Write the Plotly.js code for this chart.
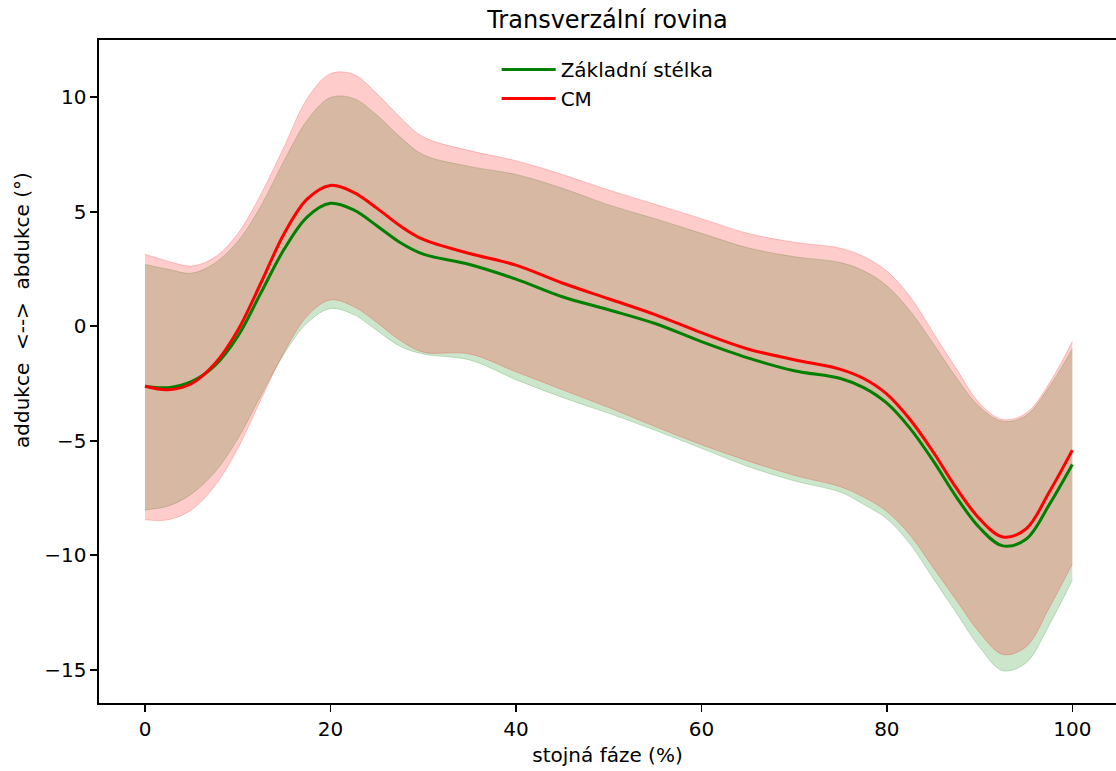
<!DOCTYPE html>
<html>
<head>
<meta charset="utf-8">
<script src="https://cdn.plot.ly/plotly-3.0.1.min.js"></script>
<style>html,body{margin:0;padding:0;background:#fff;}#chart{width:1116px;height:771px;}</style>
</head>
<body>
<div id="chart"></div>
<script>
const phase = [0,2.5,5,7.5,10,12.5,15,17.5,20,22.5,25,27.5,30,35,40,45,50,55,60,65,70,75,77.5,80,82.5,85,87.5,90,92.5,95,97.5,100];

const baseMean = [-2.62,-2.68,-2.42,-1.73,-0.44,1.46,3.36,4.78,5.37,5.08,4.39,3.66,3.15,2.70,2.06,1.29,0.72,0.12,-0.67,-1.38,-1.94,-2.28,-2.68,-3.36,-4.46,-5.88,-7.46,-8.80,-9.59,-9.30,-7.80,-6.04];
const baseUpper = [2.70,2.49,2.32,2.75,3.70,5.25,7.23,9.00,9.99,9.95,9.22,8.27,7.49,6.98,6.63,6.03,5.30,4.70,4.06,3.43,3.04,2.78,2.42,1.77,0.67,-0.75,-2.25,-3.52,-4.15,-3.90,-2.65,-0.99];
const baseLower = [-8.02,-7.85,-7.33,-6.39,-4.92,-3.02,-1.21,0.15,0.77,0.51,-0.18,-0.87,-1.21,-1.47,-2.33,-3.11,-3.80,-4.54,-5.33,-6.12,-6.75,-7.25,-7.78,-8.41,-9.51,-11.02,-12.52,-14.02,-15.04,-14.70,-13.05,-11.09];

const cmMean = [-2.62,-2.77,-2.51,-1.65,-0.18,1.89,4.04,5.56,6.15,5.85,5.16,4.39,3.79,3.18,2.67,1.89,1.20,0.51,-0.28,-0.99,-1.46,-1.88,-2.28,-2.96,-4.07,-5.49,-7.07,-8.41,-9.20,-8.85,-7.25,-5.41];
const cmUpper = [3.15,2.84,2.63,3.01,4.04,5.77,7.84,9.95,11.03,11.00,10.16,9.13,8.27,7.67,7.23,6.63,5.95,5.33,4.70,4.06,3.67,3.41,3.05,2.41,1.30,-0.28,-1.86,-3.36,-4.07,-3.80,-2.50,-0.67];
const cmLower = [-8.45,-8.45,-8.02,-6.99,-5.35,-3.20,-1.13,0.45,1.15,0.86,0.17,-0.61,-1.13,-1.21,-1.99,-2.77,-3.55,-4.38,-5.17,-5.88,-6.51,-7.01,-7.46,-8.09,-9.12,-10.54,-11.96,-13.38,-14.33,-14.00,-12.30,-10.38];

const seriesNames = ["Základní stélka", "CM"];
const xTicks = [0,20,40,60,80,100];
const yTicks = [-15,-10,-5,0,5,10];

const font = "DejaVu Sans, sans-serif";
const gFill = "rgba(0,128,0,0.2)";
const rFill = "rgba(255,0,0,0.2)";
const sm = 1;

const traces = [
  {x: phase, y: baseLower, mode: "lines", line: {color: gFill, width: 1, shape: "spline", smoothing: sm}, showlegend: false, hoverinfo: "skip"},
  {x: phase, y: baseUpper, mode: "lines", fill: "tonexty", fillcolor: gFill, line: {color: gFill, width: 1, shape: "spline", smoothing: sm}, showlegend: false, hoverinfo: "skip"},
  {x: phase, y: cmLower, mode: "lines", line: {color: rFill, width: 1, shape: "spline", smoothing: sm}, showlegend: false, hoverinfo: "skip"},
  {x: phase, y: cmUpper, mode: "lines", fill: "tonexty", fillcolor: rFill, line: {color: rFill, width: 1, shape: "spline", smoothing: sm}, showlegend: false, hoverinfo: "skip"},
  {x: phase, y: baseMean, mode: "lines", name: seriesNames[0], line: {color: "#008000", width: 3, shape: "spline", smoothing: sm}},
  {x: phase, y: cmMean, mode: "lines", name: seriesNames[1], line: {color: "#ff0000", width: 3, shape: "spline", smoothing: sm}}
];

const layout = {
  width: 1116, height: 771,
  margin: {l: 99, r: 0, t: 40, b: 68, pad: 0},
  paper_bgcolor: "#ffffff", plot_bgcolor: "#ffffff",
  font: {family: font, size: 20, color: "#000000"},
  title: {text: "Transverzální rovina", font: {family: font, size: 24, color: "#000000"}, x: 0.5, xref: "paper", xanchor: "center", yref: "container", y: 0.9637, yanchor: "bottom"},
  showlegend: true,
  legend: {x: 0.391, y: 0.985, xanchor: "left", yanchor: "top", traceorder: "normal", bgcolor: "rgba(255,255,255,0)", borderwidth: 0, font: {family: font, size: 20, color: "#000000"}, itemwidth: 54, tracegroupgap: 0},
  xaxis: {
    range: [-4.96, 104.71], tickvals: xTicks, ticktext: xTicks.map(String),
    showgrid: false, zeroline: false, showline: true, mirror: true, linecolor: "#000000", linewidth: 1.6,
    ticks: "outside", ticklen: 7, tickwidth: 1.6, tickcolor: "#000000",
    tickfont: {family: font, size: 20, color: "#000000"},
    title: {text: "stojná fáze (%)", font: {family: font, size: 20, color: "#000000"}, standoff: 8},
    automargin: false
  },
  yaxis: {
    range: [-16.45, 12.5], tickvals: yTicks,
    showgrid: false, zeroline: false, showline: true, mirror: false, linecolor: "#000000", linewidth: 1.6,
    ticks: "outside", ticklen: 7, tickwidth: 1.6, tickcolor: "#000000",
    tickfont: {family: font, size: 20, color: "#000000"},
    automargin: false
  },
  annotations: [{
    text: "addukce&nbsp;&nbsp;&lt;--&gt;&nbsp;&nbsp;abdukce (°)",
    xref: "paper", yref: "paper", x: -0.0757, y: 0.5928, xanchor: "center", yanchor: "middle",
    textangle: -90, showarrow: false, font: {family: font, size: 20, color: "#000000"}
  }]
};

Plotly.newPlot("chart", traces, layout, {displayModeBar: false, staticPlot: true});
</script>
</body>
</html>
